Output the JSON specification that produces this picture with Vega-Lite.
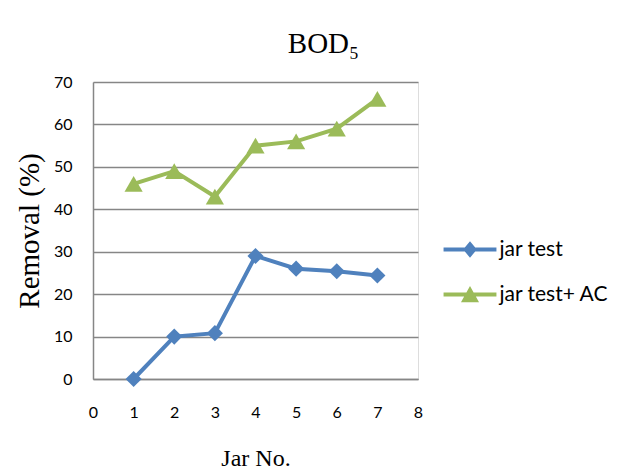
{
  "$schema": "https://vega.github.io/schema/vega-lite/v6.json",
  "autosize": {"type": "none"},
  "width": 325,
  "height": 297,
  "padding": {"left": 93, "top": 82, "right": 216, "bottom": 97},
  "background": "white",
  "title": {
    "text": "BOD₅",
    "font": "Liberation Serif",
    "fontSize": 29,
    "fontWeight": "normal",
    "color": "#000000",
    "anchor": "middle",
    "dx": 68,
    "baseline": "alphabetic",
    "offset": -8
  },
  "data": {
    "values": [
      {"jar": 1, "removal": 0, "series": "jar test"},
      {"jar": 2, "removal": 10, "series": "jar test"},
      {"jar": 3, "removal": 10.8, "series": "jar test"},
      {"jar": 4, "removal": 29, "series": "jar test"},
      {"jar": 5, "removal": 26, "series": "jar test"},
      {"jar": 6, "removal": 25.4, "series": "jar test"},
      {"jar": 7, "removal": 24.4, "series": "jar test"},
      {"jar": 1, "removal": 46, "series": "jar test+ AC"},
      {"jar": 2, "removal": 49, "series": "jar test+ AC"},
      {"jar": 3, "removal": 43, "series": "jar test+ AC"},
      {"jar": 4, "removal": 55, "series": "jar test+ AC"},
      {"jar": 5, "removal": 56, "series": "jar test+ AC"},
      {"jar": 6, "removal": 59, "series": "jar test+ AC"},
      {"jar": 7, "removal": 66, "series": "jar test+ AC"}
    ]
  },
  "encoding": {
    "x": {
      "field": "jar", "type": "quantitative",
      "scale": {"domain": [0, 8], "nice": false, "zero": false},
      "axis": {
        "title": "Jar No.",
        "values": [0, 1, 2, 3, 4, 5, 6, 7, 8],
        "grid": false, "ticks": false,
        "domain": true, "domainColor": "#868686", "domainWidth": 1.5,
        "labelFont": "Lato", "labelFontSize": 16, "labelColor": "#000000",
        "labelPadding": 25, "labelFlush": false,
        "titleFont": "Liberation Serif", "titleFontSize": 24, "titleFontWeight": "normal", "titleColor": "#000000",
        "titleBaseline": "alphabetic", "titleY": 86
      }
    },
    "y": {
      "field": "removal", "type": "quantitative",
      "scale": {"domain": [0, 70], "nice": false},
      "axis": {
        "title": "Removal (%)",
        "values": [0, 10, 20, 30, 40, 50, 60, 70],
        "grid": true, "gridColor": "#868686", "gridWidth": 1.5,
        "ticks": false,
        "domain": true, "domainColor": "#868686", "domainWidth": 1.5,
        "labelFont": "Lato", "labelFontSize": 16, "labelColor": "#000000",
        "labelPadding": 21,
        "titleFont": "Liberation Serif", "titleFontSize": 29, "titleFontWeight": "normal", "titleColor": "#000000",
        "titleBaseline": "middle", "titleX": -64
      }
    },
    "color": {
      "field": "series", "type": "nominal",
      "scale": {"domain": ["jar test", "jar test+ AC"], "range": ["#4F81BD", "#9BBB59"]},
      "legend": {
        "title": null,
        "orient": "none",
        "legendX": 355.5,
        "legendY": 146,
        "rowPadding": 13,
        "padding": 0,
        "symbolSize": 1849,
        "symbolStrokeWidth": 0,
        "labelFont": "Lato", "labelFontSize": 21, "labelColor": "#000000",
        "labelOffset": 8, "labelLimit": 300,
        "encode": {
          "symbols": {
            "update": {
              "shape": {"signal": "datum.value == 'jar test' ? 'M-1.23,-0.093H1.23V0.093H-1.23Z M0,-0.38L0.32,0L0,0.38L-0.32,0Z' : 'M-1.23,-0.093H1.23V0.093H-1.23Z M0,-0.4L0.42,0.36L-0.42,0.36Z'"},
              "fill": {"signal": "datum.value == 'jar test' ? '#4F81BD' : '#9BBB59'"},
              "stroke": {"value": "transparent"},
              "size": {"value": 1849},
              "strokeWidth": {"value": 0},
              "opacity": {"value": 1}
            }
          }
        }
      }
    }
  },
  "layer": [
    {
      "mark": {"type": "line", "strokeWidth": 4}
    },
    {
      "transform": [{"filter": "datum.series == 'jar test'"}],
      "mark": {"type": "point", "filled": true, "opacity": 1, "shape": "diamond", "size": 260}
    },
    {
      "transform": [{"filter": "datum.series == 'jar test+ AC'"}],
      "mark": {"type": "point", "filled": true, "opacity": 1, "shape": "triangle-up", "size": 330}
    }
  ]
}
